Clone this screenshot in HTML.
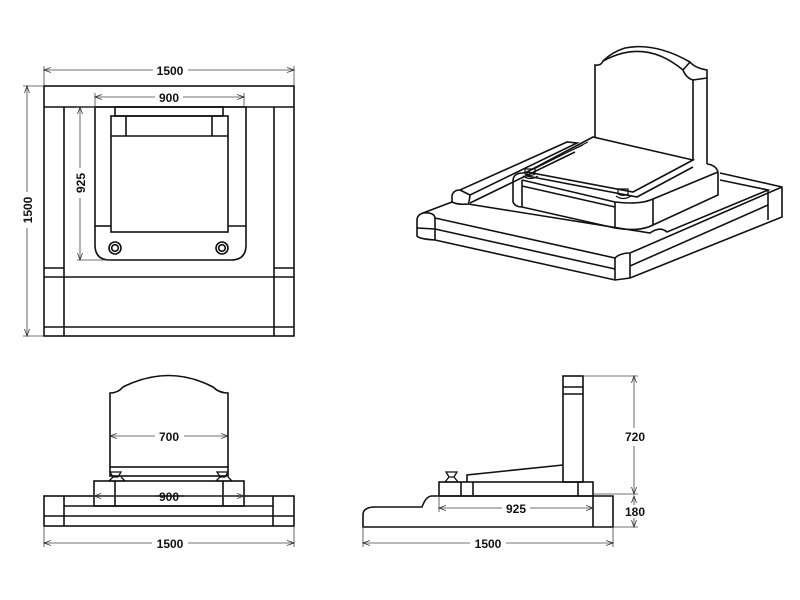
<!DOCTYPE html>
<html><head><style>
html,body{margin:0;padding:0;background:#fff;}
svg{display:block;}
text{font-family:"Liberation Sans",Arial,sans-serif;font-size:12px;font-weight:bold;fill:#111;}
</style></head><body>
<svg width="800" height="600" viewBox="0 0 800 600" xmlns="http://www.w3.org/2000/svg">
<defs>
<marker id="a" markerWidth="8" markerHeight="6" refX="7" refY="3" orient="auto-start-reverse" markerUnits="userSpaceOnUse"><path d="M0,0.5 L7,3 L0,5.5" fill="none" stroke="#333" stroke-width="0.8"/></marker>
</defs>
<g fill="none" stroke="#111" stroke-width="1.6">
<!-- TOP LEFT PLAN -->
<rect x="44" y="86" width="250" height="250"/>
<line x1="44" y1="107" x2="294" y2="107"/>
<line x1="64" y1="107" x2="64" y2="336"/>
<line x1="274" y1="107" x2="274" y2="336"/>
<line x1="44" y1="277" x2="294" y2="277"/>
<line x1="44" y1="327" x2="294" y2="327"/>
<line x1="44" y1="268" x2="64" y2="268"/>
<line x1="274" y1="268" x2="294" y2="268"/>
<path d="M95,107 H246 V245 Q246,260 231,260 H110 Q95,260 95,245 Z"/>
<rect x="115" y="107" width="108" height="9"/>
<rect x="111" y="116" width="117" height="116"/>
<line x1="111" y1="136" x2="228" y2="136"/>
<line x1="126" y1="116" x2="126" y2="136"/>
<line x1="212" y1="116" x2="212" y2="136"/>
<line x1="95" y1="226" x2="111" y2="226"/>
<line x1="228" y1="226" x2="246" y2="226"/>
<circle cx="115" cy="248" r="6"/><circle cx="115" cy="248" r="3.3"/>
<circle cx="222" cy="248" r="6"/><circle cx="222" cy="248" r="3.3"/>

<!-- BOTTOM LEFT FRONT -->
<path d="M110,467 V393 Q118,393 123,387 Q169,364 213,387 Q219,393 228,393 V467"/>
<rect x="110" y="467" width="118" height="9"/>
<rect x="94" y="481" width="150" height="25"/>
<line x1="115" y1="481" x2="115" y2="506"/>
<line x1="223" y1="481" x2="223" y2="506"/>
<rect x="44" y="496" width="250" height="30"/>
<line x1="64" y1="506" x2="273" y2="506"/>
<line x1="44" y1="516" x2="294" y2="516"/>
<line x1="64" y1="496" x2="64" y2="526"/>
<line x1="273" y1="496" x2="273" y2="526"/>
<path d="M110,472 H121 L118,477 H113 Z M113,477 L109,481 H125 L121,477" stroke-width="1.3"/>
<path d="M217,472 H228 L225,477 H220 Z M220,477 L216,481 H232 L228,477" stroke-width="1.3"/>

<!-- BOTTOM RIGHT SIDE -->
<rect x="563" y="376" width="20" height="106"/>
<line x1="563" y1="387" x2="583" y2="387"/>
<line x1="563" y1="394" x2="583" y2="394"/>
<path d="M467,482 V475 L563,465"/>
<rect x="439" y="482" width="154" height="14"/>
<line x1="461" y1="482" x2="461" y2="496"/>
<line x1="473" y1="482" x2="473" y2="496"/>
<line x1="578" y1="482" x2="578" y2="496"/>
<path d="M446,472 H457 L454,477 H449 Z M449,477 L445,482 H458 L454,477" stroke-width="1.3"/>
<path d="M363,527 V515 Q363,507 375,507 H422 Q426,496 432,496 H613 V527 Z"/>
<line x1="593" y1="496" x2="593" y2="527"/>

<!-- ISO VIEW -->
<!-- slab -->
<path d="M452,202 L423,213 Q417,215 417,220 V236 Q419,239 435,240 L615,280 L630,278 L782,217 V187 L720,173"/>
<path d="M423,213 Q434,212 435,218 L615,258 Q620,253 630,253 L782,187"/>
<line x1="435" y1="218" x2="435" y2="240"/>
<line x1="417" y1="228" x2="435" y2="229"/>
<line x1="435" y1="229" x2="615" y2="269"/>
<line x1="630" y1="266" x2="768" y2="205"/>
<line x1="615" y1="258" x2="615" y2="280"/>
<line x1="630" y1="253" x2="630" y2="278"/>
<line x1="768" y1="190" x2="768" y2="220"/>
<path d="M720,180 L768,190 L667,232 Q660,226 650,233 L468,204"/>
<!-- left kerb -->
<path d="M452,202 V196 Q453,190 460,190 L567,142 L577,143 L470,195 Q469,204 468,204 Q458,205 452,202"/>
<line x1="460" y1="190" x2="470" y2="195"/>
<line x1="470" y1="203" x2="575" y2="152"/>
<!-- inner base box -->
<path d="M513,202 V181 Q513,173 523,173 L527,172"/>
<path d="M513,202 Q515,207 522,207 L615,228 Q640,232 653,225 L718,195 V172 Q716,165 707,164"/>
<line x1="522" y1="180" x2="522" y2="207"/>
<path d="M522,180 L615,202 Q640,205 653,199 L718,172"/>
<line x1="522" y1="186" x2="615" y2="207"/>
<line x1="615" y1="202" x2="615" y2="228"/>
<line x1="653" y1="199" x2="653" y2="225"/>
<!-- ledger -->
<path d="M527,172 L593,137 L693,160 L633,192 Z"/>
<path d="M527,172 V176 L637,197 L693,167"/>
<path d="M530,170 L583,145 M534,169 L588,142" stroke-width="1"/>
<!-- headstone -->
<path d="M595,137 V65 Q601,66 603,61 Q645,38 683,70 Q686,78 693,80 V160"/>
<path d="M603,61 Q612,52 625,48 Q655,42 690,62 Q695,68 707,70 V164"/>
<line x1="693" y1="80" x2="707" y2="78"/>
<line x1="683" y1="70" x2="690" y2="62"/>
<!-- vases -->
<path d="M525,169 H535 V174 Q530,177 525,174 Z M523,176 Q530,181 538,176" stroke-width="1.2"/>
<path d="M618,189 H628 V194 Q623,197 618,194 Z M616,196 Q623,201 631,196" stroke-width="1.2"/>
</g>

<!-- dimensions -->
<g fill="none" stroke="#444" stroke-width="0.8">
<line x1="44" y1="66" x2="44" y2="86"/><line x1="294" y1="66" x2="294" y2="86"/>
<line x1="44" y1="70" x2="153" y2="70" marker-start="url(#a)"/><line x1="188" y1="70" x2="294" y2="70" marker-end="url(#a)"/>
<line x1="95" y1="93" x2="95" y2="107"/><line x1="244" y1="93" x2="244" y2="107"/>
<line x1="95" y1="97" x2="155" y2="97" marker-start="url(#a)"/><line x1="183" y1="97" x2="244" y2="97" marker-end="url(#a)"/>
<line x1="77" y1="107" x2="95" y2="107"/><line x1="77" y1="260" x2="110" y2="260"/>
<line x1="80" y1="107" x2="80" y2="168" marker-start="url(#a)"/><line x1="80" y1="198" x2="80" y2="260" marker-end="url(#a)"/>
<line x1="23" y1="86" x2="44" y2="86"/><line x1="23" y1="336" x2="44" y2="336"/>
<line x1="27" y1="86" x2="27" y2="192" marker-start="url(#a)"/><line x1="27" y1="228" x2="27" y2="336" marker-end="url(#a)"/>

<line x1="110" y1="436" x2="155" y2="436" marker-start="url(#a)"/><line x1="184" y1="436" x2="228" y2="436" marker-end="url(#a)"/>
<line x1="94" y1="496" x2="155" y2="496" marker-start="url(#a)"/><line x1="184" y1="496" x2="244" y2="496" marker-end="url(#a)"/>
<line x1="44" y1="526" x2="44" y2="547"/><line x1="294" y1="526" x2="294" y2="547"/>
<line x1="44" y1="543" x2="152" y2="543" marker-start="url(#a)"/><line x1="188" y1="543" x2="294" y2="543" marker-end="url(#a)"/>

<line x1="439" y1="496" x2="439" y2="512"/>
<line x1="439" y1="508" x2="502" y2="508" marker-start="url(#a)"/><line x1="530" y1="508" x2="593" y2="508" marker-end="url(#a)"/>
<line x1="583" y1="376" x2="638" y2="376"/><line x1="613" y1="527" x2="638" y2="527"/>
<line x1="593" y1="494" x2="638" y2="494"/>
<line x1="634" y1="376" x2="634" y2="428" marker-start="url(#a)"/><line x1="634" y1="446" x2="634" y2="494" marker-end="url(#a)"/>
<line x1="634" y1="496" x2="634" y2="505" marker-start="url(#a)"/><line x1="634" y1="518" x2="634" y2="527" marker-end="url(#a)"/>
<line x1="363" y1="527" x2="363" y2="547"/><line x1="613" y1="527" x2="613" y2="547"/>
<line x1="363" y1="543" x2="470" y2="543" marker-start="url(#a)"/><line x1="506" y1="543" x2="613" y2="543" marker-end="url(#a)"/>
</g>
<g text-anchor="middle">
<text x="170" y="75">1500</text>
<text x="169" y="102">900</text>
<text transform="translate(85,183) rotate(-90)">925</text>
<text transform="translate(32,210) rotate(-90)">1500</text>
<text x="169" y="441">700</text>
<text x="169" y="501">900</text>
<text x="170" y="548">1500</text>
<text x="516" y="513">925</text>
<text x="635" y="441">720</text>
<text x="635" y="516">180</text>
<text x="488" y="548">1500</text>
</g>
</svg>
</body></html>
